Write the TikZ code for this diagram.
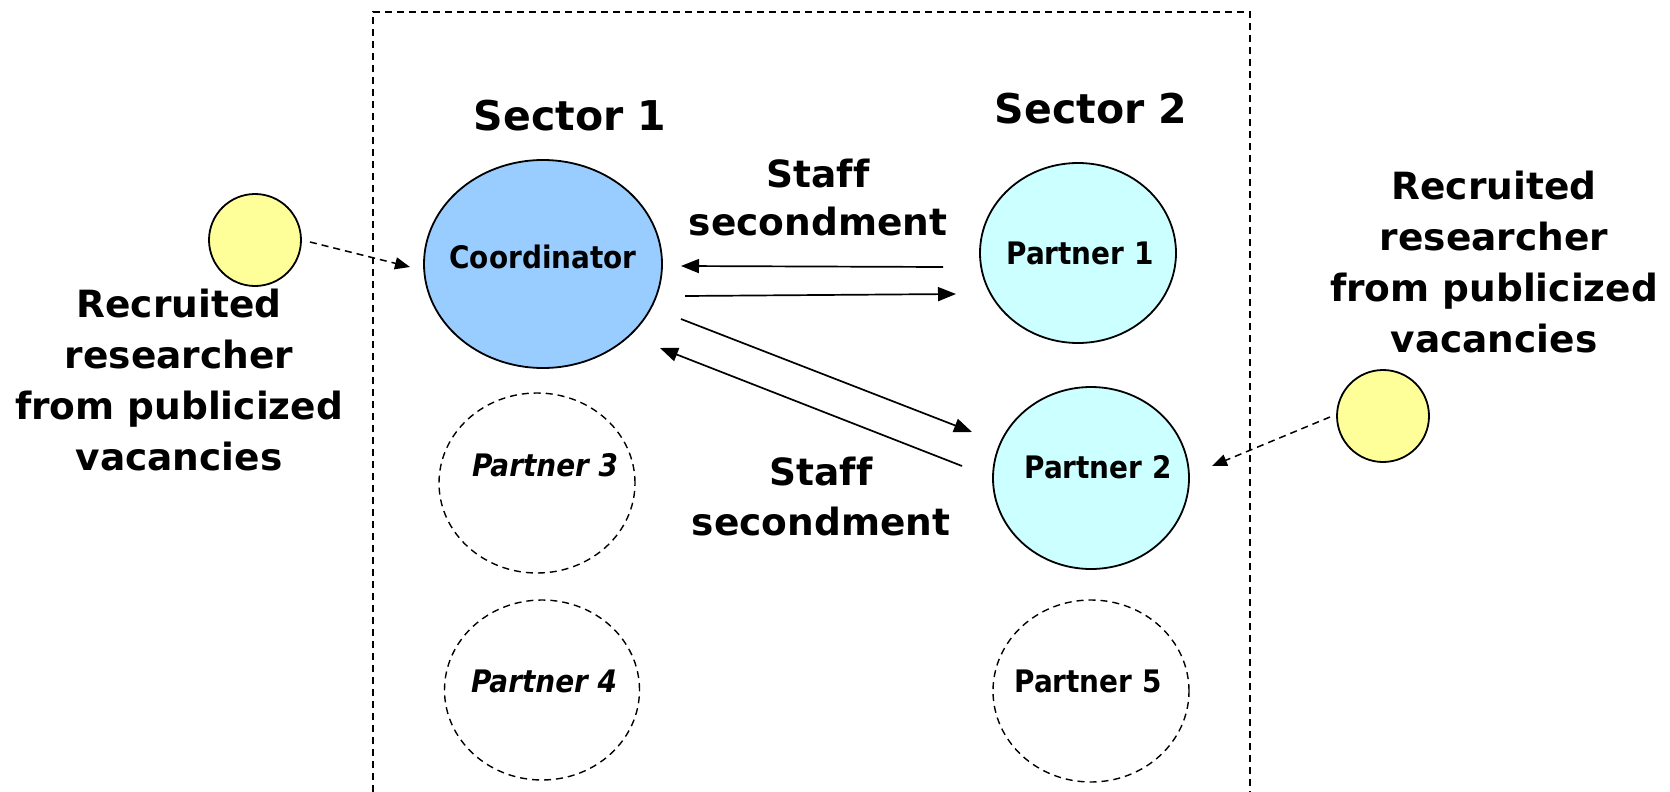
\documentclass[tikz,border=0pt]{standalone}
\usepackage{fontspec}
\setmainfont[Ligatures=NoCommon]{DejaVu Sans}
\newfontfamily\condfont{DejaVu Sans Condensed}
\usetikzlibrary{shapes.geometric,arrows.meta}
\definecolor{coordblue}{HTML}{99CCFF}
\definecolor{partnercyan}{HTML}{CCFFFF}
\definecolor{recruityellow}{HTML}{FFFF99}
\begin{document}
\begin{tikzpicture}[x=1pt,y=-1pt,
  blob/.style={ellipse, draw, line width=1.8pt, inner sep=0pt},
  ghost/.style={ellipse, draw, dash pattern=on 7pt off 5pt, line width=1.4pt, inner sep=0pt},
  inlabel/.style={font=\condfont\bfseries\fontsize{31}{37}\selectfont, anchor=base, inner sep=0pt},
  biglabel/.style={font=\bfseries\fontsize{37.5}{51}\selectfont, align=center, anchor=base, inner sep=0pt},
  sectorlabel/.style={font=\bfseries\fontsize{41}{48}\selectfont, anchor=base, inner sep=0pt},
  flow/.style={line width=1.7pt, -{Triangle[length=18pt,width=14pt]}},
  recruit/.style={line width=1.5pt, dash pattern=on 7pt off 5pt, -{Triangle[length=15pt,width=12pt]}},
]
\useasboundingbox (0,0) rectangle (1670,792);

% consortium frame, open at the bottom
\draw[line width=1.3pt, dash pattern=on 7pt off 5pt] (373,792) -- (373,12) -- (1250,12) -- (1250,792);

% sector headings
\node[sectorlabel] (sec1) at (570,130) {Sector 1};
\node[sectorlabel] (sec2) at (1091,123) {Sector 2};

% partner organisations
\node[blob, fill=coordblue, minimum width=238pt, minimum height=208pt] (coord) at (543,264) {};
\node[blob, fill=partnercyan, minimum width=196pt, minimum height=180pt] (p1) at (1078,253) {};
\node[blob, fill=partnercyan, minimum width=196pt, minimum height=182pt] (p2) at (1091,478) {};
\node[ghost, minimum width=196pt, minimum height=180pt] (p3) at (537,483) {};
\node[ghost, minimum width=195pt, minimum height=180pt] (p4) at (542,690) {};
\node[ghost, minimum width=196pt, minimum height=182pt] (p5) at (1091,691) {};

\node[inlabel] (coordtxt) at (543,268) {Coordinator};
\node[inlabel] (p1txt) at (1080,264) {Partner 1};
\node[inlabel] (p2txt) at (1098,478) {Partner 2};
\node[inlabel, font=\condfont\bfseries\itshape\fontsize{31}{37}\selectfont] (p3txt) at (545,476) {Partner 3};
\node[inlabel, font=\condfont\bfseries\itshape\fontsize{31}{37}\selectfont] (p4txt) at (544,692) {Partner 4};
\node[inlabel] (p5txt) at (1088,692) {Partner 5};

% recruited researchers (multi-line labels are placed by their last baseline)
\node[circle, draw, line width=1.8pt, fill=recruityellow, minimum size=92pt, inner sep=0pt] (yl) at (255,240) {};
\node[circle, draw, line width=1.8pt, fill=recruityellow, minimum size=92pt, inner sep=0pt] (yr) at (1383,416) {};
\node[biglabel] (ltxt) at (179,470) {Recruited\\researcher\\from publicized\\vacancies};
\node[biglabel] (rtxt) at (1494,352) {Recruited\\researcher\\from publicized\\vacancies};

% secondment labels
\node[biglabel, font=\bfseries\fontsize{37.5}{48}\selectfont] (sec_top) at (818,235) {Staff\\secondment};
\node[biglabel, font=\bfseries\fontsize{37.5}{50}\selectfont] (sec_bot) at (821,535) {Staff\\secondment};

% staff exchanges
\draw[flow] ([shift={(-135,14)}]p1.center) -- ([shift={(138,2)}]coord.center);
\draw[flow] ([shift={(142,32)}]coord.center) -- ([shift={(-122,41)}]p1.center);
\draw[flow] ([shift={(138,55)}]coord.center) -- ([shift={(-119,-46)}]p2.center);
\draw[flow] ([shift={(-129,-12)}]p2.center) -- ([shift={(117,84)}]coord.center);

% recruitment
\draw[recruit] ([shift={(55,2)}]yl.center) -- ([shift={(-133,3)}]coord.center);
\draw[recruit] ([shift={(-53,1)}]yr.center) -- ([shift={(121,-12)}]p2.center);
\end{tikzpicture}
\end{document}
